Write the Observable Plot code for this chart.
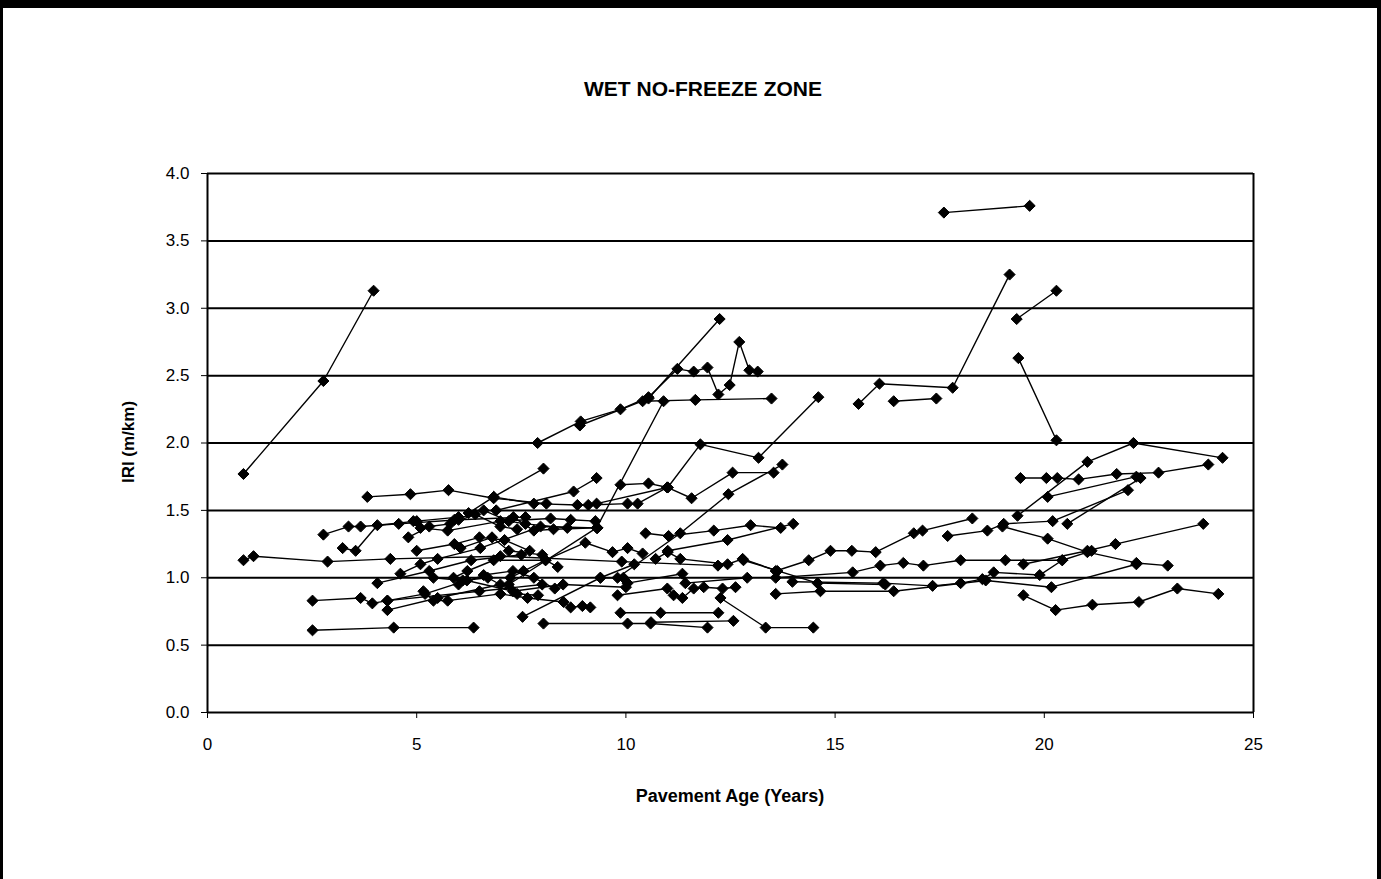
<!DOCTYPE html>
<html>
<head>
<meta charset="utf-8">
<script src="https://cdn.jsdelivr.net/npm/d3@7"></script>
<script src="https://cdn.jsdelivr.net/npm/@observablehq/plot@0.6"></script>
<style>
  html, body { margin: 0; padding: 0; background: #fff; }
  #wrap { position: relative; width: 1381px; height: 879px; overflow: hidden; }
  #frame { position: absolute; left: 0; top: 0; width: 1381px; height: 879px; box-sizing: border-box;
           border-top: 8px solid #000; border-left: 3px solid #000; border-right: 4px solid #000; pointer-events: none; }
  #chart { position: absolute; left: 0; top: 0; }
</style>
</head>
<body>
<div id="wrap"><div id="chart"></div><div id="frame"></div></div>
<script>
// Chart texts
const titleText = "WET NO-FREEZE ZONE";
const xLabel = "Pavement Age (Years)";
const yLabel = "IRI (m/km)";
const xTicks = [0, 5, 10, 15, 20, 25];
const yTicks = [0, 0.5, 1, 1.5, 2, 2.5, 3, 3.5, 4];

// Each section: [age (years), IRI (m/km)] pairs
const s01 = [[0.86,1.77],[2.77,2.46],[3.97,3.13]];
const s02 = [[17.6,3.71],[19.65,3.76]];
const s03 = [[15.56,2.29],[16.06,2.44],[17.81,2.41],[19.17,3.25]];
const s04 = [[16.4,2.31],[17.42,2.33]];
const s05 = [[19.34,2.92],[20.29,3.13]];
const s06 = [[19.38,2.63],[20.29,2.02]];
const s07 = [[7.89,2.0],[8.92,2.16],[9.87,2.25],[10.54,2.34],[11.23,2.55],[11.62,2.53],[11.95,2.56],[12.21,2.36],[12.48,2.43],[12.71,2.75],[12.95,2.54],[13.15,2.53]];
const s08 = [[8.9,2.13],[10.54,2.33],[12.24,2.92]];
const s09 = [[10.4,2.31],[11.66,2.32],[13.48,2.33]];
const s10 = [[9.87,1.69],[10.54,1.70],[11.0,1.67],[11.78,1.99],[13.17,1.89],[14.6,2.34]];
const s11 = [[7.2,0.95],[9.3,1.37],[10.9,2.31]];
const s12 = [[9.3,1.55],[10.99,1.67],[11.57,1.59],[12.55,1.78],[13.53,1.78]];
const s13 = [[9.8,1.0],[11.3,1.33],[12.45,1.62],[13.74,1.84]];
const s14 = [[3.82,1.60],[4.85,1.62],[5.76,1.65],[6.84,1.59],[8.1,1.55]];
const s15 = [[6.84,1.6],[8.03,1.81]];
const s16 = [[6.9,1.5],[8.75,1.64],[9.3,1.74]];
const s17 = [[0.86,1.13],[1.1,1.16],[2.87,1.12],[4.37,1.14],[7.0,1.16],[9.9,1.12],[12.2,1.09]];
const s18 = [[2.77,1.32],[3.37,1.38],[3.66,1.38],[4.57,1.40],[6.0,1.43],[7.6,1.45]];
const s19 = [[3.23,1.22],[3.54,1.2],[4.06,1.39],[5.0,1.42],[6.0,1.45]];
const s20 = [[2.51,0.83],[3.66,0.85],[3.94,0.81],[4.3,0.83],[6.5,0.9],[8.0,0.95]];
const s21 = [[2.51,0.61],[4.45,0.63],[6.36,0.63]];
const s22 = [[4.06,0.96],[5.3,1.05],[6.3,1.13],[7.5,1.17]];
const s23 = [[4.3,0.76],[5.5,0.85],[7.0,0.95]];
const s24 = [[8.03,0.66],[10.04,0.66],[10.59,0.66],[11.95,0.63]];
const s25 = [[12.26,0.85],[13.34,0.63],[14.48,0.63]];
const s26 = [[10.6,0.67],[12.57,0.68]];
const s27 = [[7.53,0.71],[9.39,1.0],[10.2,1.1]];
const s28 = [[9.87,0.74],[10.83,0.74],[12.21,0.74]];
const s29 = [[10.47,1.33],[11.02,1.31],[12.1,1.35],[12.98,1.39],[13.7,1.37]];
const s30 = [[11.0,1.2],[12.43,1.28],[14.0,1.40]];
const s31 = [[19.43,1.74],[20.05,1.74],[20.31,1.74],[20.82,1.73],[21.73,1.77],[22.73,1.78],[23.92,1.84]];
const s32 = [[19.36,1.46],[21.03,1.86],[22.13,2.0],[24.26,1.89]];
const s33 = [[20.08,1.6],[22.2,1.75]];
const s34 = [[20.55,1.4],[22.3,1.74]];
const s35 = [[19.5,1.1],[21.03,1.2],[21.7,1.25],[23.8,1.40]];
const s36 = [[19.0,1.38],[20.08,1.29],[21.03,1.19],[22.2,1.11],[22.95,1.09]];
const s37 = [[19.5,0.87],[20.27,0.76],[21.15,0.80],[22.26,0.82],[23.18,0.92],[24.16,0.88]];
const s38 = [[13.58,1.05],[14.37,1.13],[14.89,1.2],[15.4,1.2],[15.97,1.19],[16.88,1.33],[17.09,1.35],[18.28,1.44]];
const s39 = [[17.69,1.31],[18.64,1.35],[19.03,1.40],[20.2,1.42],[22.0,1.65]];
const s40 = [[13.58,1.0],[15.42,1.04],[16.08,1.09],[16.63,1.11],[17.11,1.09],[18.0,1.13],[19.07,1.13],[20.43,1.13],[21.13,1.2]];
const s41 = [[13.98,0.97],[16.15,0.96],[17.33,0.94],[18.0,0.96],[18.52,0.99],[18.79,1.04],[19.89,1.02],[20.43,1.13]];
const s42 = [[13.58,0.88],[14.65,0.9],[16.4,0.9],[18.6,0.98],[20.17,0.93],[22.2,1.1]];
const s43 = [[12.81,1.13],[14.58,0.96],[16.2,0.95]];
const s44 = [[4.61,1.03],[5.09,1.1],[5.5,1.14],[6.52,1.22],[7.96,1.38],[9.32,1.37]];
const s45 = [[4.92,1.42],[5.09,1.37],[5.74,1.35],[7.0,1.42],[8.2,1.44],[8.68,1.43],[9.27,1.42]];
const s46 = [[5.88,1.0],[6.21,1.05],[6.84,1.13],[8.08,1.13],[8.37,1.08]];
const s47 = [[5.16,0.9],[5.4,0.83],[5.74,0.83],[7.0,0.88],[7.65,0.85],[8.51,0.82],[8.68,0.78],[8.96,0.79],[9.15,0.78]];
const s48 = [[6.24,1.48],[6.84,1.6],[7.8,1.55],[8.84,1.54],[9.1,1.54],[10.04,1.55],[10.28,1.55],[10.99,1.67]];
const s49 = [[7.31,1.45],[7.8,1.35],[8.27,1.36],[9.32,1.37]];
const s50 = [[7.24,1.0],[7.55,1.05],[8.08,1.13],[9.03,1.26],[9.68,1.19],[10.04,1.22],[10.4,1.18]];
const s51 = [[10.71,1.14],[11.0,1.19],[11.3,1.14],[12.43,1.1],[12.79,1.14],[13.62,1.05]];
const s52 = [[9.39,1.0],[9.94,1.0],[10.04,0.96],[11.35,1.03],[11.42,0.96],[12.9,1.0]];
const s53 = [[9.8,0.87],[10.99,0.92],[11.14,0.87],[11.35,0.85],[11.62,0.92],[11.86,0.93],[12.31,0.92],[12.62,0.93]];
const s54 = [[6.05,1.22],[6.8,1.3],[7.2,1.2],[8.0,1.17]];
const s55 = [[4.3,0.83],[5.2,0.88],[6.2,0.98],[7.3,0.9],[8.5,0.95],[10.0,0.93]];
const s56 = [[5.9,1.43],[6.6,1.5],[7.2,1.42],[7.6,1.4],[8.6,1.37]];
const s57 = [[4.8,1.3],[5.3,1.38],[5.8,1.4],[6.4,1.47],[7.0,1.38],[7.4,1.36]];
const s58 = [[5.0,1.2],[5.9,1.25],[6.5,1.3],[7.1,1.28],[7.7,1.2]];
const s59 = [[6.0,0.95],[6.6,1.02],[7.3,1.05],[7.8,1.0],[8.3,0.92]];
const s60 = [[5.4,1.0],[6.1,0.98],[6.7,1.0],[7.4,0.88],[7.9,0.87]];

const allSeries = [s01,s02,s03,s04,s05,s06,s07,s08,s09,s10,s11,s12,s13,s14,s15,s16,s17,s18,s19,s20,
  s21,s22,s23,s24,s25,s26,s27,s28,s29,s30,s31,s32,s33,s34,s35,s36,s37,s38,s39,s40,
  s41,s42,s43,s44,s45,s46,s47,s48,s49,s50,s51,s52,s53,s54,s55,s56,s57,s58,s59,s60];

const rows = allSeries.flatMap((s, i) => s.map(([age, iri]) => ({id: i, age, iri})));

const font = "'Liberation Sans', Arial, sans-serif";

const chart = Plot.plot({
  width: 1381,
  height: 879,
  marginLeft: 207,
  marginRight: 128,
  marginTop: 173,
  marginBottom: 167,
  style: {fontFamily: font, background: "transparent", color: "#000"},
  x: {domain: [0, 25], label: null},
  y: {domain: [0, 4], label: null},
  marks: [
    Plot.gridY(yTicks, {stroke: "#000", strokeOpacity: 1, strokeWidth: 2}),
    Plot.ruleX([0, 25], {stroke: "#000", strokeWidth: 2}),
    Plot.axisY(yTicks, {tickSize: 6, tickPadding: 12, tickFormat: d3.format(".1f"), fontSize: 17, label: null, stroke: "#000"}),
    Plot.axisX(xTicks, {tickSize: 6, tickPadding: 19, fontSize: 17, label: null, stroke: "#000"}),
    Plot.line(rows, {x: "age", y: "iri", z: "id", stroke: "#000", strokeWidth: 1.4}),
    Plot.dot(rows, {x: "age", y: "iri", symbol: "diamond2", fill: "#000", stroke: "#000", strokeWidth: 1, r: 5})
  ]
});
document.getElementById("chart").appendChild(chart);

const svg = d3.select(chart);
svg.append("text").attr("x", 703).attr("y", 96).attr("text-anchor", "middle")
  .style("font", `bold 21px ${font}`).text(titleText);
svg.append("text").attr("x", 730).attr("y", 802).attr("text-anchor", "middle")
  .style("font", `bold 18px ${font}`).text(xLabel);
svg.append("text").attr("transform", "translate(134,442) rotate(-90)").attr("text-anchor", "middle")
  .style("font", `bold 17px ${font}`).text(yLabel);
</script>
</body>
</html>
